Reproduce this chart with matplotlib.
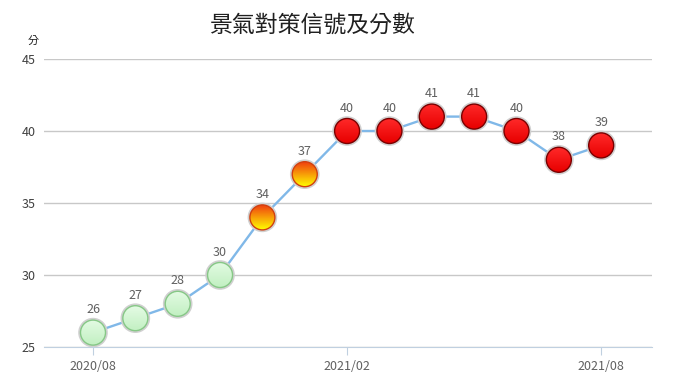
import matplotlib.pyplot as plt
import numpy as np
from matplotlib.patches import Ellipse

plt.rcParams['font.family'] = ['Noto Sans CJK TC', 'DejaVu Sans']

months = ["2020/08", "2020/09", "2020/10", "2020/11", "2020/12", "2021/01", "2021/02",
          "2021/03", "2021/04", "2021/05", "2021/06", "2021/07", "2021/08"]
scores = [26, 27, 28, 30, 34, 37, 40, 40, 41, 41, 40, 38, 39]
signals = ["green", "green", "green", "green", "yellowred", "yellowred", "red",
           "red", "red", "red", "red", "red", "red"]
shown_ticks = ["2020/08", "2021/02", "2021/08"]

# top colour, bottom colour, edge colour
styles = {
    "green": ("#e4fbe4", "#c2f0c2", "#86c886"),
    "yellowred": ("#f03a10", "#ffff00", "#d04010"),
    "red": ("#ff2a2a", "#e80000", "#7a0000"),
}

fig = plt.figure(figsize=(6.9, 3.89), dpi=100)
ax = fig.add_axes([44 / 690, 42 / 389, 608 / 690, 288 / 389])

x = np.arange(len(months))
ax.set_xlim(-1.157, 13.2)
ax.set_ylim(25, 45)

ax.plot(x, scores, color="#80b8e8", lw=1.7, zorder=2)

# pixel -> data unit sizes
px_x = 608 / (ax.get_xlim()[1] - ax.get_xlim()[0])
px_y = 288 / 20
r = 12.5
halo = 14.8
for xi, yi, sig in zip(x, scores, signals):
    top, bot, edge = styles[sig]
    ax.add_patch(Ellipse((xi, yi), 2 * halo / px_x, 2 * halo / px_y,
                         facecolor="#d0d0d0", edgecolor="none", zorder=3))
    c1 = np.array(plt.matplotlib.colors.to_rgb(top))
    c2 = np.array(plt.matplotlib.colors.to_rgb(bot))
    t = np.linspace(0, 1, 50)[:, None]
    grad = (c1 * (1 - t) + c2 * t)[:, None, :]
    clip = Ellipse((xi, yi), 2 * r / px_x, 2 * r / px_y, transform=ax.transData)
    im = ax.imshow(grad, extent=[xi - r / px_x, xi + r / px_x, yi - r / px_y, yi + r / px_y],
                   aspect="auto", zorder=4, origin="upper", interpolation="bilinear")
    im.set_clip_path(clip)
    ax.add_patch(Ellipse((xi, yi), 2 * r / px_x, 2 * r / px_y,
                         facecolor="none", edgecolor=edge, lw=1.0, zorder=5))
    ax.text(xi, yi + 23 / px_y, str(yi), ha="center", va="center",
            fontsize=9, color="#606060", zorder=6)

ax.set_xlim(-1.157, 13.2)
ax.set_ylim(25, 45)

ax.set_yticks([25, 30, 35, 40, 45])
ax.yaxis.grid(True, color="#c8c8c8", lw=1)
ax.set_axisbelow(True)
ax.tick_params(axis="y", length=0, labelsize=9, labelcolor="#404040", pad=6)

tick_pos = [months.index(m) for m in shown_ticks]
ax.set_xticks(tick_pos)
ax.set_xticklabels(shown_ticks)
ax.tick_params(axis="x", length=6, color="#c0d0e0", labelsize=9, labelcolor="#606060", pad=3)

for s in ["top", "right", "left"]:
    ax.spines[s].set_visible(False)
ax.spines["bottom"].set_color("#c0d0e0")

fig.text(312 / 690, 1 - 25 / 389, "景氣對策信號及分數", ha="center", va="center",
         fontsize=16.5, color="#202020")
fig.text(33 / 690, 1 - 41 / 389, "分", ha="center", va="center", fontsize=8, color="#202020")

fig.savefig("out.png", dpi=100)
